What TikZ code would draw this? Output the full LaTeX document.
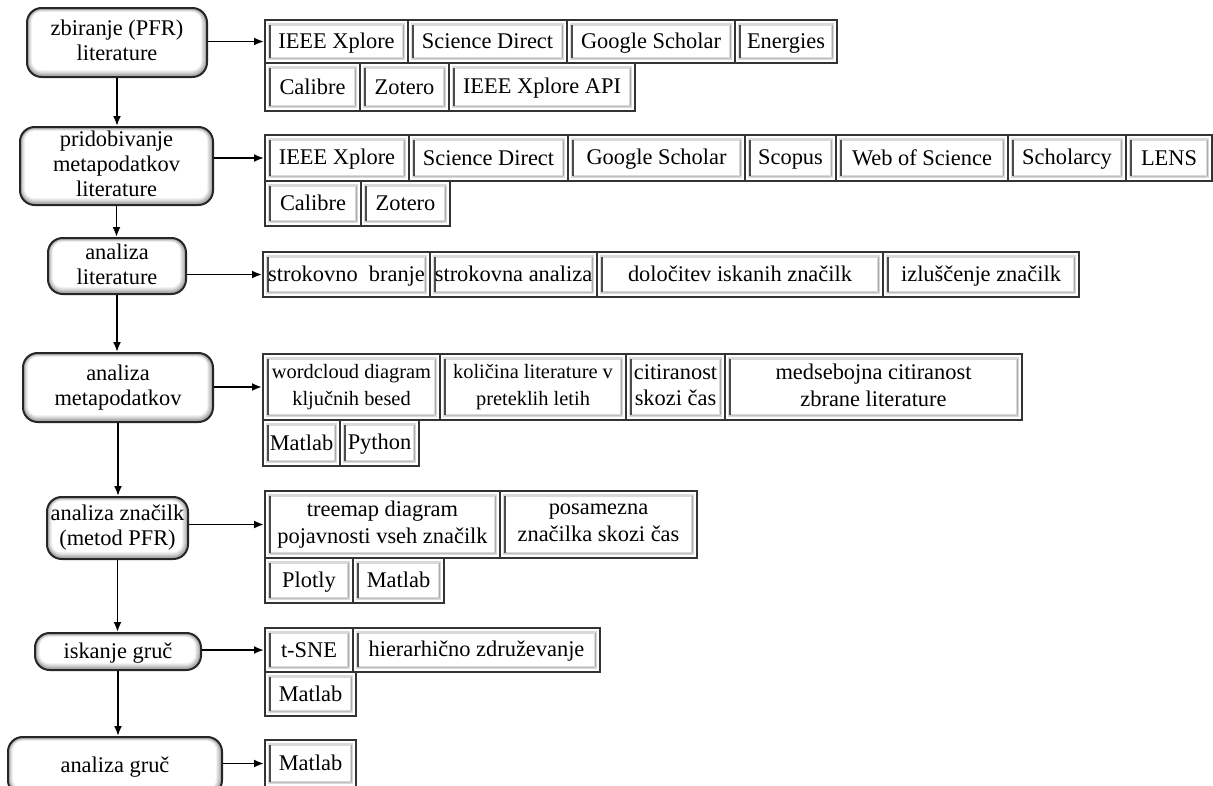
\documentclass[tikz,border=0pt]{standalone}
\usepackage{fontspec}
\setmainfont{Liberation Serif}
\usetikzlibrary{arrows.meta}
\newcommand\cellfont{\fontsize{16.8}{20}\selectfont}
\newcommand\smallcellfont{\fontsize{15.3}{20}\selectfont}
\newcommand\stagefont{\fontsize{16.8}{18.8}\selectfont}
\newcommand\mystrut{\rule[-3pt]{0pt}{17pt}}
\newcommand\boxat[7]{%
  \pgfmathsetmacro\mybw{(#5-#3)*0.75}%
  \pgfmathsetmacro\mybh{(#6-#4)*0.75}%
  \node[#1, minimum width=\mybw pt, minimum height=\mybh pt] (#2) at ({(#3+#5)/2},{(#4+#6)/2}) {#7};}
\tikzset{
  cellbox/.style={draw=black!80, line width=1.5pt, fill=white, inner sep=0pt, align=center, font=\cellfont,
    execute at begin node=\mystrut, execute at end node=\mystrut,
    path picture={
      \draw[gray!30, line width=2.2pt] ([shift={(3.3pt,-3.3pt)}]path picture bounding box.north west) rectangle ([shift={(-3.3pt,3.3pt)}]path picture bounding box.south east);
      \draw[black!70, line width=1.5pt] ([shift={(3.6pt,-4pt)}]path picture bounding box.north west) -- ([shift={(3.6pt,4pt)}]path picture bounding box.south west);
      \draw[gray!65, line width=1pt] ([shift={(-3.6pt,-3.6pt)}]path picture bounding box.north east) -- ([shift={(-3.6pt,3.6pt)}]path picture bounding box.south east);
      \draw[gray!50, line width=0.8pt] ([shift={(3.6pt,3.4pt)}]path picture bounding box.south west) -- ([shift={(-3.6pt,3.4pt)}]path picture bounding box.south east);
    }},
  smallcell/.style={cellbox, font=\smallcellfont},
  stagebox/.style={draw=black!85, line width=1.5pt, rounded corners=11pt, fill=gray!65, inner sep=0pt, align=center, font=\stagefont,
    execute at begin node=\mystrut, execute at end node=\mystrut,
    path picture={
      \fill[gray!45, rounded corners=10pt] ([shift={(1.2pt,-1.2pt)}]path picture bounding box.north west) rectangle ([shift={(-1.6pt,2pt)}]path picture bounding box.south east);
      \fill[gray!28, rounded corners=9pt] ([shift={(2pt,-1.8pt)}]path picture bounding box.north west) rectangle ([shift={(-2.6pt,3pt)}]path picture bounding box.south east);
      \fill[gray!14, rounded corners=8pt] ([shift={(2.8pt,-2.4pt)}]path picture bounding box.north west) rectangle ([shift={(-3.5pt,4pt)}]path picture bounding box.south east);
      \fill[white, rounded corners=7pt] ([shift={(3.6pt,-3pt)}]path picture bounding box.north west) rectangle ([shift={(-4.3pt,5pt)}]path picture bounding box.south east);
    }},
  arr/.style={-{Latex[length=7.5pt,width=6pt]}, line width=1.4pt, black}
}
\begin{document}
\begin{tikzpicture}[x=0.75pt,y=-0.75pt]
\useasboundingbox (0,0) rectangle (1213,785);
\clip (0,0) rectangle (1213,785);
% stages
\boxat{stagebox}{s1}{27}{8}{207}{77}{zbiranje (PFR)\\literature}
\boxat{stagebox}{s2}{20}{127}{213}{205}{pridobivanje\\metapodatkov\\literature}
\boxat{stagebox}{s3}{48}{238}{186}{294}{analiza\\literature}
\boxat{stagebox}{s4}{23}{353}{213}{422}{analiza\\metapodatkov}
\boxat{stagebox}{s5}{47}{497}{188}{559}{analiza značilk\\(metod PFR)}
\boxat{stagebox}{s6}{35}{633}{201}{670}{iskanje gruč}
\boxat{stagebox}{s7}{8}{737}{222}{795}{analiza gruč}
% row 1
\boxat{cellbox}{c11}{265}{20}{408}{63}{IEEE Xplore}
\boxat{cellbox}{c12}{408}{20}{567}{63}{Science Direct}
\boxat{cellbox}{c13}{567}{20}{735}{63}{Google Scholar}
\boxat{cellbox}{c14}{735}{20}{837}{63}{Energies}
\boxat{cellbox}{c15}{265}{63}{360}{111}{Calibre}
\boxat{cellbox}{c16}{360}{63}{449}{111}{Zotero}
\boxat{cellbox}{c17}{449}{63}{635}{111}{IEEE Xplore API}
% row 2
\boxat{cellbox}{c21}{265}{135}{409}{181}{IEEE Xplore}
\boxat{cellbox}{c22}{409}{135}{568}{181}{Science Direct}
\boxat{cellbox}{c23}{568}{135}{745}{181}{Google Scholar}
\boxat{cellbox}{c24}{745}{135}{836}{181}{Scopus}
\boxat{cellbox}{c25}{836}{135}{1008}{181}{Web of Science}
\boxat{cellbox}{c26}{1008}{135}{1126}{181}{Scholarcy}
\boxat{cellbox}{c27}{1126}{135}{1212}{181}{LENS}
\boxat{cellbox}{c28}{265}{181}{361}{226}{Calibre}
\boxat{cellbox}{c29}{361}{181}{450}{226}{Zotero}
% row 3
\boxat{cellbox}{c31}{263}{252}{430}{297}{strokovno\ \ branje}
\boxat{cellbox}{c32}{430}{252}{597}{297}{strokovna analiza}
\boxat{cellbox}{c33}{597}{252}{883}{297}{določitev iskanih značilk}
\boxat{cellbox}{c34}{883}{252}{1079}{297}{izluščenje značilk}
% row 4
\boxat{smallcell}{c41}{263}{354}{440}{420}{wordcloud diagram\\ključnih besed}
\boxat{smallcell}{c42}{440}{354}{626}{420}{količina literature v\\preteklih letih}
\boxat{cellbox}{c43}{626}{354}{725}{420}{citiranost\\skozi čas}
\boxat{cellbox}{c44}{725}{354}{1022}{420}{medsebojna citiranost\\zbrane literature}
\boxat{cellbox}{c45}{263}{420}{340}{466}{Matlab}
\boxat{cellbox}{c46}{340}{420}{419}{466}{Python}
% row 5
\boxat{cellbox}{c51}{265}{491}{500}{558}{treemap diagram\\pojavnosti vseh značilk}
\boxat{cellbox}{c52}{500}{491}{697}{558}{posamezna\\značilka skozi čas}
\boxat{cellbox}{c53}{265}{558}{353}{603}{Plotly}
\boxat{cellbox}{c54}{353}{558}{444}{603}{Matlab}
% row 6
\boxat{cellbox}{c61}{265}{628}{353}{672}{t-SNE}
\boxat{cellbox}{c62}{353}{628}{600}{672}{hierarhično združevanje}
\boxat{cellbox}{c63}{265}{672}{356}{716}{Matlab}
% row 7
\boxat{cellbox}{c71}{265}{740}{356}{787}{Matlab}
% vertical arrows
\draw[arr] (s1.south) -- (s1.south |- s2.north);
\draw[arr] (s2.south) -- (s2.south |- s3.north);
\draw[arr] (s3.south) -- (s3.south |- s4.north);
\draw[arr] (s4.south) -- (s4.south |- s5.north);
\draw[arr] (s5.south) -- (s5.south |- s6.north);
\draw[arr] (s6.south) -- (s6.south |- s7.north);
% horizontal arrows
\draw[arr] (s1.east |- c11.west) -- (c11.west);
\draw[arr] (s2.east |- c21.west) -- (c21.west);
\draw[arr] (s3.east |- c31.west) -- (c31.west);
\draw[arr] (s4.east |- c41.west) -- (c41.west);
\draw[arr] (s5.east |- c51.west) -- (c51.west);
\draw[arr] (s6.east |- c61.west) -- (c61.west);
\draw[arr] (s7.east |- c71.west) -- (c71.west);
\end{tikzpicture}
\end{document}
